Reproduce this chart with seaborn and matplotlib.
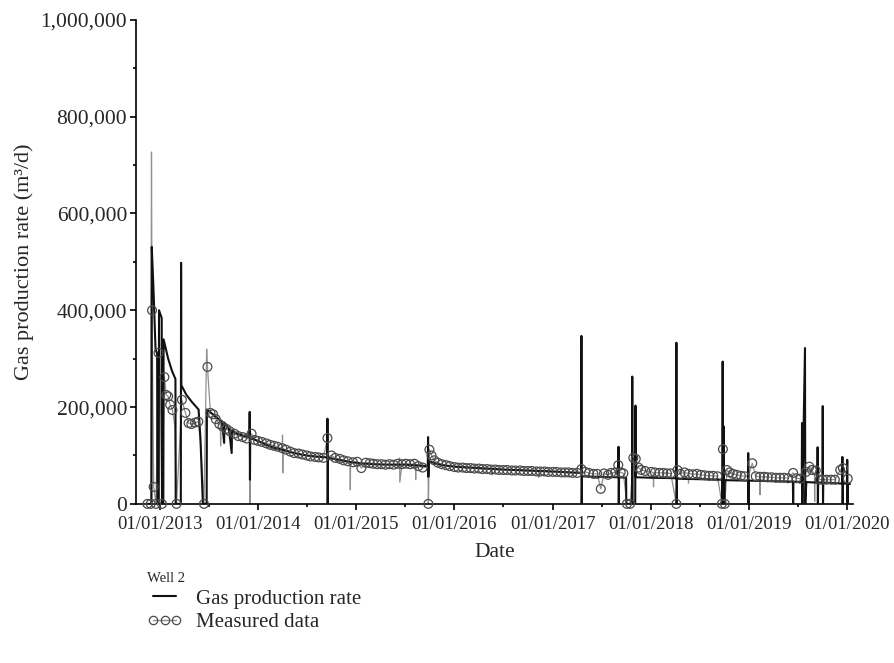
import numpy as np
import pandas as pd
import matplotlib
matplotlib.use("Agg")
import matplotlib.pyplot as plt
import matplotlib.dates as mdates
from matplotlib.ticker import FuncFormatter, MultipleLocator
from matplotlib.lines import Line2D
import seaborn as sns

# ---------------- data (values in thousand m3/d) ----------------
model_dates = [
    "2012-11-15", "2012-12-01", "2012-12-02", "2012-12-08", "2012-12-16", "2012-12-22", "2012-12-23",
    "2012-12-28", "2012-12-29", "2013-01-08", "2013-01-09", "2013-01-14", "2013-01-15", "2013-02-01",
    "2013-02-15", "2013-02-28", "2013-03-01", "2013-03-20", "2013-03-21", "2013-03-22", "2013-04-10",
    "2013-05-01", "2013-05-25", "2013-06-01", "2013-06-10", "2013-06-24", "2013-06-25", "2013-07-15",
    "2013-08-01", "2013-08-20", "2013-08-28", "2013-08-29", "2013-09-15", "2013-09-25", "2013-09-26",
    "2013-10-15", "2013-11-10", "2013-11-30", "2013-12-01", "2013-12-02", "2013-12-03", "2014-01-01",
    "2014-02-01", "2014-03-01", "2014-04-01", "2014-05-01", "2014-06-01", "2014-07-01", "2014-08-01",
    "2014-09-15", "2014-09-16", "2014-09-17", "2014-09-18", "2014-10-15", "2014-11-15", "2014-12-15",
    "2015-01-15", "2015-03-01", "2015-05-01", "2015-07-01", "2015-09-24", "2015-09-25", "2015-09-26",
    "2015-09-28", "2015-10-15", "2015-11-15", "2016-01-01", "2016-04-01", "2016-07-01", "2016-10-01",
    "2017-01-01", "2017-04-16", "2017-04-17", "2017-04-18", "2017-04-19", "2017-06-01", "2017-09-01",
    "2017-09-02", "2017-09-03", "2017-09-04", "2017-09-30", "2017-10-01", "2017-10-22", "2017-10-23",
    "2017-10-24", "2017-11-03", "2017-11-04", "2017-11-05", "2018-01-01", "2018-04-04", "2018-04-05",
    "2018-04-06", "2018-04-07", "2018-07-01", "2018-09-22", "2018-09-23", "2018-09-24", "2018-09-25",
    "2018-09-28", "2018-09-29", "2018-10-01", "2018-10-02", "2018-12-27", "2018-12-28", "2018-12-29",
    "2018-12-30", "2019-06-12", "2019-06-13", "2019-06-14", "2019-07-15", "2019-07-16", "2019-07-17",
    "2019-07-27", "2019-07-28", "2019-08-01", "2019-09-11", "2019-09-12", "2019-09-13", "2019-09-14",
    "2019-09-30", "2019-10-01", "2019-10-02", "2019-10-03", "2019-12-12", "2019-12-13", "2019-12-14",
    "2019-12-15", "2019-12-30", "2019-12-31", "2020-01-01", "2020-01-02", "2020-01-10",
]
model_rate = [
    0, 0, 531, 450, 320, 310, 0,
    0, 400, 384, 0, 0, 340, 300,
    275, 258, 0, 0, 498, 245, 225,
    210, 195, 135, 0, 0, 195, 186,
    178, 170, 126, 168, 155, 105, 152,
    145, 140, 138, 190, 50, 136, 130,
    122, 116, 112, 107, 103, 100, 98,
    96, 176, 0, 96, 92, 89, 86,
    84, 82, 81, 81, 78, 138, 56,
    88, 85, 80, 77, 74, 71, 69,
    67, 64, 347, 0, 57, 56, 55,
    118, 0, 55, 54, 0, 0, 263,
    0, 0, 203, 55, 54, 53, 333,
    0, 52, 51, 50, 0, 294, 0,
    160, 0, 0, 49, 48, 105, 0,
    48, 46, 0, 46, 45, 167, 0,
    322, 0, 45, 44, 117, 0, 44,
    44, 202, 0, 44, 42, 97, 0,
    42, 42, 91, 0, 41, 41,
]

meas_dates = [
    "2012-11-16", "2012-11-28", "2012-12-03", "2012-12-09", "2012-12-18", "2012-12-27", "2013-01-09",
    "2013-01-18", "2013-01-25", "2013-02-01", "2013-02-08", "2013-02-17", "2013-03-04", "2013-03-24",
    "2013-04-06", "2013-04-18", "2013-04-28", "2013-05-12", "2013-05-24", "2013-06-14", "2013-06-27",
    "2013-07-08", "2013-07-18", "2013-07-28", "2013-08-10", "2013-08-22", "2013-09-05", "2013-09-18",
    "2013-10-05", "2013-10-20", "2013-11-05", "2013-11-20", "2013-12-08", "2013-12-20", "2014-01-01",
    "2014-01-15", "2014-02-01", "2014-02-15", "2014-03-01", "2014-03-15", "2014-04-01", "2014-04-15",
    "2014-05-01", "2014-05-15", "2014-06-01", "2014-06-15", "2014-07-01", "2014-07-15", "2014-08-01",
    "2014-08-15", "2014-09-01", "2014-09-16", "2014-10-01", "2014-10-15", "2014-11-01", "2014-11-15",
    "2014-12-01", "2014-12-20", "2015-01-05", "2015-01-20", "2015-02-05", "2015-02-20", "2015-03-05",
    "2015-03-20", "2015-04-05", "2015-04-20", "2015-05-05", "2015-05-20", "2015-06-05", "2015-06-20",
    "2015-07-05", "2015-07-20", "2015-08-05", "2015-08-20", "2015-09-05", "2015-09-26", "2015-09-30",
    "2015-10-08", "2015-10-18", "2015-11-01", "2015-11-15", "2015-12-01", "2015-12-15", "2016-01-01",
    "2016-01-15", "2016-02-01", "2016-02-15", "2016-03-01", "2016-03-15", "2016-04-01", "2016-04-15",
    "2016-05-01", "2016-05-15", "2016-06-01", "2016-06-15", "2016-07-01", "2016-07-15", "2016-08-01",
    "2016-08-15", "2016-09-01", "2016-09-15", "2016-10-01", "2016-10-15", "2016-11-01", "2016-11-15",
    "2016-12-01", "2016-12-15", "2017-01-01", "2017-01-15", "2017-02-01", "2017-02-15", "2017-03-01",
    "2017-03-15", "2017-04-01", "2017-04-17", "2017-05-01", "2017-05-15", "2017-06-01", "2017-06-15",
    "2017-06-28", "2017-07-10", "2017-07-25", "2017-08-05", "2017-08-20", "2017-09-01", "2017-09-10",
    "2017-09-20", "2017-10-03", "2017-10-15", "2017-10-27", "2017-11-05", "2017-11-15", "2017-11-25",
    "2017-12-10", "2018-01-01", "2018-01-15", "2018-02-01", "2018-02-15", "2018-03-01", "2018-03-15",
    "2018-04-05", "2018-04-09", "2018-04-20", "2018-05-05", "2018-05-20", "2018-06-05", "2018-06-20",
    "2018-07-05", "2018-07-20", "2018-08-05", "2018-08-20", "2018-09-05", "2018-09-21", "2018-09-25",
    "2018-10-02", "2018-10-10", "2018-10-20", "2018-11-01", "2018-11-15", "2018-12-01", "2018-12-15",
    "2019-01-12", "2019-01-25", "2019-02-10", "2019-02-25", "2019-03-10", "2019-03-25", "2019-04-10",
    "2019-04-25", "2019-05-10", "2019-05-25", "2019-06-13", "2019-06-25", "2019-07-10", "2019-07-31",
    "2019-08-12", "2019-08-22", "2019-09-05", "2019-09-20", "2019-10-01", "2019-10-15", "2019-11-01",
    "2019-11-15", "2019-12-05", "2019-12-15", "2020-01-02",
]
meas_rate = [
    0, 0, 400, 35, 0, 312, 0,
    262, 225, 222, 205, 194, 0, 215,
    188, 167, 165, 168, 170, 0, 283,
    188, 185, 175, 165, 160, 155, 150,
    145, 140, 138, 135, 145, 132, 130,
    128, 125, 122, 120, 118, 115, 112,
    108, 105, 104, 102, 100, 98, 97,
    96, 95, 136, 100, 95, 93, 90,
    88, 86, 87, 74, 85, 84, 83,
    82, 82, 81, 82, 81, 83, 82,
    83, 82, 83, 78, 75, 0, 112,
    100, 90, 85, 82, 80, 78, 76,
    75, 75, 74, 74, 73, 73, 72,
    72, 71, 71, 70, 70, 70, 69,
    69, 69, 68, 68, 68, 67, 67,
    67, 66, 66, 66, 65, 65, 65,
    64, 64, 72, 66, 64, 62, 62,
    31, 63, 60, 64, 65, 80, 65,
    63, 0, 0, 95, 93, 75, 70,
    68, 66, 65, 64, 64, 63, 63,
    0, 70, 62, 65, 62, 61, 62,
    60, 59, 58, 58, 57, 0, 113,
    0, 70, 65, 62, 60, 58, 57,
    84, 57, 56, 56, 55, 55, 54,
    54, 54, 53, 64, 53, 52, 66,
    77, 70, 69, 50, 50, 50, 50,
    50, 70, 74, 52,
]

# daily readings between the sampled (circled) points of the measured series
dip_dates = [
    "2012-12-01", "2012-12-30", "2013-02-26", "2013-06-02",
    "2013-06-24", "2013-08-14", "2013-08-15", "2013-08-16",
    "2013-09-24", "2013-09-25", "2013-09-26", "2013-11-30",
    "2013-12-01", "2013-12-02", "2013-12-03", "2014-04-02",
    "2014-04-03", "2014-04-04", "2014-09-17", "2014-09-18",
    "2014-12-09", "2014-12-10", "2014-12-11", "2015-06-10",
    "2015-06-11", "2015-06-12", "2015-08-09", "2015-08-10",
    "2015-08-11", "2015-09-25", "2016-05-19", "2016-05-20",
    "2016-05-21", "2016-11-09", "2016-11-10", "2016-11-11",
    "2017-04-16", "2017-04-18", "2017-04-19", "2017-09-02",
    "2017-09-03", "2018-01-09", "2018-01-10", "2018-01-11",
    "2018-05-19", "2018-05-20", "2018-05-21", "2018-09-23",
    "2018-12-27", "2018-12-28", "2018-12-29", "2019-02-09",
    "2019-02-10", "2019-02-11", "2019-07-19", "2019-07-20",
    "2019-07-21", "2019-08-31", "2019-09-01", "2019-09-02",
    "2019-09-11", "2019-09-12", "2019-09-13",
]
dip_rate = [
    727, 380, 160, 120,
    320, 165, 120, 165,
    152, 115, 150, 136,
    190, 0, 135, 142,
    64, 114, 0, 98,
    87, 29, 87, 83,
    95, 45, 82, 50,
    82, 76, 72, 60,
    72, 67, 55, 67,
    64, 0, 66, 0,
    65, 65, 35, 65,
    63, 43, 63, 0,
    58, 0, 58, 56,
    19, 56, 52, 0,
    52, 60, 5, 60,
    55, 0, 55,
]

# ---------------- frames ----------------
model = pd.DataFrame({"date": pd.to_datetime(model_dates), "rate": np.array(model_rate) * 1000.0})
meas = pd.DataFrame({"date": pd.to_datetime(meas_dates), "rate": np.array(meas_rate) * 1000.0})
dips = pd.DataFrame({"date": pd.to_datetime(dip_dates), "rate": np.array(dip_rate) * 1000.0})
meas_line = pd.concat([meas, dips]).sort_values("date", kind="stable").reset_index(drop=True)

# ---------------- plot ----------------
sns.set_theme(style="ticks")
plt.rcParams["font.family"] = ["Liberation Serif", "DejaVu Serif"]
plt.rcParams["axes.linewidth"] = 1.2

fig = plt.figure(figsize=(8.94, 6.63), dpi=100)
ax = fig.add_axes([0.152, 0.240, 0.802, 0.730])

meas_color = "#909090"
marker_edge = "#4a4a4a"

sns.lineplot(data=meas_line, x="date", y="rate", color=meas_color, lw=0.9,
             estimator=None, sort=False, ax=ax, zorder=2)
sns.lineplot(data=model, x="date", y="rate", color="#111111", lw=1.5,
             estimator=None, sort=False, ax=ax, zorder=3)
sns.scatterplot(data=meas, x="date", y="rate", marker="o", s=40,
                facecolors="none", edgecolors=marker_edge, linewidth=0.9,
                ax=ax, zorder=4, clip_on=False)

ax.set_xlim(pd.Timestamp("2012-10-04"), pd.Timestamp("2020-01-21"))
ax.set_ylim(0, 1_000_000)

ax.xaxis.set_major_locator(mdates.YearLocator())
ax.xaxis.set_minor_locator(mdates.MonthLocator(bymonth=7))
ax.xaxis.set_major_formatter(mdates.DateFormatter("%m/%d/%Y"))
ax.yaxis.set_major_locator(MultipleLocator(200_000))
ax.yaxis.set_minor_locator(MultipleLocator(100_000))
ax.yaxis.set_major_formatter(FuncFormatter(lambda v, p: f"{int(v):,}"))

ax.tick_params(axis="both", which="major", direction="out", length=4.5, width=1.2,
               color="black", pad=1.8)
ax.tick_params(axis="both", which="minor", direction="out", length=2.5, width=1.2,
               color="black")
ax.tick_params(axis="x", labelsize=13.5, pad=4.2)
ax.tick_params(axis="y", labelsize=15.5)

for s in ["top", "right"]:
    ax.spines[s].set_visible(False)
for s in ["left", "bottom"]:
    ax.spines[s].set_color("black")

ax.set_xlabel("Date", fontsize=15.5, labelpad=7)
ax.set_ylabel("Gas production rate (m³/d)", fontsize=16, labelpad=4.5)

handles = [
    Line2D([], [], color="#111111", lw=1.5),
    Line2D([], [], color=meas_color, lw=1.0, marker="o", markersize=6,
           markerfacecolor="none", markeredgecolor=marker_edge, markeredgewidth=0.9),
]
leg = fig.legend(handles, ["Gas production rate", "Measured data"], title="Well 2",
                 loc="upper left", bbox_to_anchor=(0.155, 0.150), frameon=False,
                 fontsize=15, title_fontsize=10.5, numpoints=3, handlelength=1.7,
                 handletextpad=0.65, labelspacing=0.2, alignment="left",
                 borderaxespad=0.0)

fig.savefig("out.png", dpi=100)
